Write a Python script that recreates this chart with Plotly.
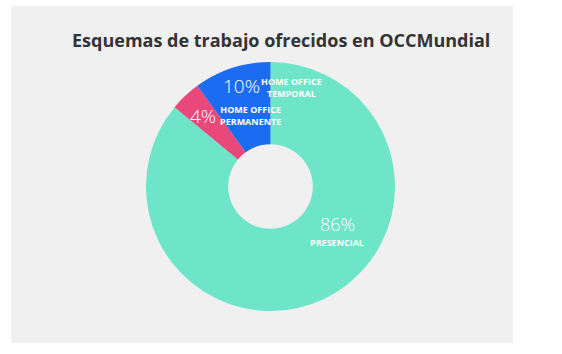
import plotly.graph_objects as go

# Data (listed clockwise starting at 12 o'clock)
categories = ["PRESENCIAL", "HOME OFFICE<br>PERMANENTE", "HOME OFFICE<br>TEMPORAL"]
values = [86, 4, 10]
colors = ["#6ee4c8", "#e8487a", "#1c6cf2"]
title_text = "Esquemas de trabajo ofrecidos en OCCMundial"

W, H = 562, 354

def px(x):
    return x / W

def py(y):
    return 1 - y / H

# label placement (pixel centers) for percent text and name text
pct_pos = [(337, 224), (202.5, 116), (241.5, 86)]
pct_size = [18, 19, 19]
name_pos = [(337, 242), (250.5, 116), (291.5, 87)]

fig = go.Figure()
fig.add_trace(go.Pie(
    labels=categories,
    values=values,
    marker=dict(colors=colors, line=dict(width=0)),
    hole=0.34,
    sort=False,
    direction="clockwise",
    rotation=0,
    textinfo="none",
    hoverinfo="label+percent",
    showlegend=False,
    domain=dict(x=[px(146), px(395)], y=[py(311), py(62)]),
))

total = sum(values)
annotations = []
for i, (cat, v) in enumerate(zip(categories, values)):
    pct = round(100 * v / total)
    annotations.append(dict(
        x=px(pct_pos[i][0]), y=py(pct_pos[i][1]), xref="paper", yref="paper",
        text=f"{pct}%", showarrow=False, xanchor="center", yanchor="middle",
        font=dict(family="Open Sans", size=pct_size[i], color="white", weight=300),
    ))
    annotations.append(dict(
        x=px(name_pos[i][0]), y=py(name_pos[i][1]), xref="paper", yref="paper",
        text=f"<b>{cat}</b>", showarrow=False, xanchor="center", yanchor="middle",
        align="center",
        font=dict(family="Open Sans", size=9, color="white"),
    ))

annotations.append(dict(
    x=px(281), y=py(40), xref="paper", yref="paper",
    text=f"<b>{title_text}</b>", showarrow=False, xanchor="center", yanchor="middle",
    font=dict(family="Open Sans", size=18, color="#333333"),
))

fig.update_layout(
    width=W, height=H,
    margin=dict(l=0, r=0, t=0, b=0),
    paper_bgcolor="white",
    plot_bgcolor="white",
    annotations=annotations,
    shapes=[dict(type="rect", xref="paper", yref="paper",
                 x0=px(11), x1=px(513), y0=py(343), y1=py(6),
                 fillcolor="#f0f0f0", line=dict(width=0), layer="below")],
)

fig.write_html("out.html")
